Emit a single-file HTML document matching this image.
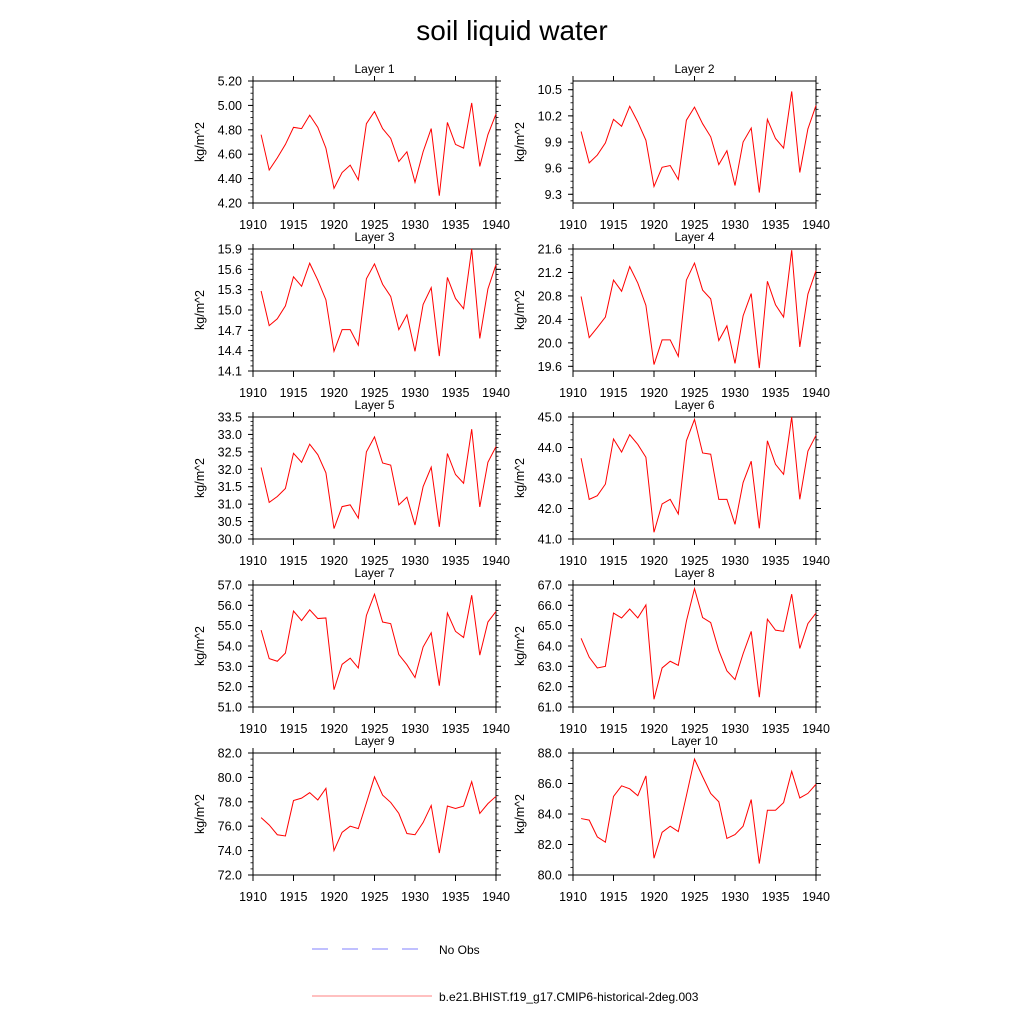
<!DOCTYPE html>
<html><head><meta charset="utf-8"><style>
body{margin:0;background:#fff;}
svg text{font-family:"Liberation Sans",Arial,sans-serif;fill:#000;}
</style></head><body>
<svg id="chart" width="1024" height="1024" xmlns="http://www.w3.org/2000/svg">
<rect width="1024" height="1024" fill="#fff"/>
<text x="512" y="40" font-size="28" text-anchor="middle">soil liquid water</text>
<g>
<line x1="312" y1="949" x2="420" y2="949" stroke="#8080ff" stroke-width="1" stroke-dasharray="16,14"/>
<text x="439" y="954" font-size="12">No Obs</text>
<line x1="312" y1="996" x2="432" y2="996" stroke="#ff8080" stroke-width="1"/>
<text x="439" y="1001" font-size="12">b.e21.BHIST.f19_g17.CMIP6-historical-2deg.003</text>
</g>
</svg>
<script>
const years = [];
for (let y = 1911; y <= 1940; y++) years.push(y);
const xTicks = [1910, 1915, 1920, 1925, 1930, 1935, 1940];
const layer1 = [4.76,4.47,4.57,4.68,4.82,4.81,4.92,4.82,4.65,4.32,4.45,4.51,4.39,4.85,4.95,4.81,4.73,4.54,4.62,4.37,4.62,4.81,4.26,4.86,4.68,4.65,5.02,4.50,4.76,4.93];
const layer2 = [10.02,9.66,9.75,9.89,10.16,10.08,10.31,10.13,9.92,9.39,9.61,9.63,9.47,10.15,10.30,10.11,9.96,9.64,9.80,9.40,9.90,10.06,9.32,10.16,9.94,9.83,10.48,9.55,10.05,10.32];
const layer3 = [15.28,14.77,14.87,15.06,15.49,15.35,15.69,15.44,15.15,14.39,14.71,14.71,14.48,15.46,15.68,15.38,15.20,14.71,14.93,14.39,15.08,15.33,14.32,15.48,15.17,15.02,15.90,14.58,15.31,15.67];
const layer4 = [20.79,20.09,20.26,20.44,21.07,20.88,21.30,21.02,20.64,19.63,20.05,20.05,19.77,21.07,21.36,20.90,20.75,20.04,20.29,19.65,20.46,20.84,19.57,21.05,20.65,20.44,21.58,19.93,20.83,21.23];
const layer5 = [32.05,31.05,31.22,31.45,32.46,32.20,32.72,32.42,31.90,30.30,30.93,30.98,30.60,32.50,32.93,32.18,32.12,30.98,31.20,30.40,31.50,32.06,30.35,32.45,31.85,31.60,33.15,30.92,32.20,32.65];
const layer6 = [43.65,42.30,42.42,42.80,44.28,43.85,44.42,44.10,43.68,41.22,42.15,42.30,41.82,44.22,44.92,43.82,43.78,42.30,42.30,41.48,42.85,43.55,41.35,44.22,43.45,43.12,45.00,42.30,43.88,44.40];
const layer7 = [54.78,53.38,53.25,53.65,55.72,55.25,55.78,55.35,55.38,51.85,53.10,53.40,52.92,55.50,56.55,55.18,55.10,53.58,53.08,52.45,53.95,54.65,52.05,55.62,54.72,54.42,56.50,53.55,55.18,55.70];
const layer8 = [64.38,63.45,62.92,63.00,65.62,65.38,65.82,65.38,66.02,61.38,62.92,63.25,63.05,65.22,66.82,65.40,65.15,63.78,62.78,62.35,63.62,64.72,61.48,65.32,64.78,64.72,66.55,63.88,65.10,65.62];
const layer9 = [76.7,76.1,75.3,75.2,78.1,78.3,78.75,78.15,79.1,74.0,75.5,76.0,75.8,77.9,80.05,78.55,77.95,77.05,75.4,75.3,76.3,77.7,73.8,77.65,77.45,77.65,79.65,77.05,77.85,78.45];
const layer10 = [83.7,83.6,82.5,82.15,85.15,85.85,85.65,85.2,86.5,81.1,82.8,83.2,82.85,85.2,87.6,86.45,85.35,84.8,82.4,82.65,83.2,84.95,80.75,84.25,84.25,84.75,86.8,85.05,85.35,85.95];
const yMins = [4.2, 9.2, 14.1, 19.52, 30.0, 41.0, 51.0, 61.0, 72.0, 80.0];
const yMaxs = [5.2, 10.6, 15.9, 21.6, 33.5, 45.0, 57.0, 67.0, 82.0, 88.0];
const yTicks1 = [4.2,4.4,4.6,4.8,5.0,5.2];
const yTicks2 = [9.3,9.6,9.9,10.2,10.5];
const yTicks3 = [14.1,14.4,14.7,15.0,15.3,15.6,15.9];
const yTicks4 = [19.6,20.0,20.4,20.8,21.2,21.6];
const yTicks5 = [30.0,30.5,31.0,31.5,32.0,32.5,33.0,33.5];
const yTicks6 = [41,42,43,44,45];
const yTicks7 = [51,52,53,54,55,56,57];
const yTicks8 = [61,62,63,64,65,66,67];
const yTicks9 = [72,74,76,78,80,82];
const yTicks10 = [80,82,84,86,88];
const tickDecimals = [2,1,1,1,1,1,1,1,1,1];
const layers = [layer1,layer2,layer3,layer4,layer5,layer6,layer7,layer8,layer9,layer10];
const yTicksAll = [yTicks1,yTicks2,yTicks3,yTicks4,yTicks5,yTicks6,yTicks7,yTicks8,yTicks9,yTicks10];

const NS = "http://www.w3.org/2000/svg";
const svg = document.getElementById('chart');
function mk(tag, attrs, parent) {
  const e = document.createElementNS(NS, tag);
  for (const k in attrs) e.setAttribute(k, attrs[k]);
  parent.appendChild(e);
  return e;
}
const lefts = [253, 573], W = 243, H = 122;
const tops = [81, 249, 417, 585, 753];
layers.forEach((data, i) => {
  const L = lefts[i % 2], T = tops[Math.floor(i / 2)];
  const ymin = yMins[i], ymax = yMaxs[i];
  const xs = v => L + (v - 1910) / 30 * W;
  const ys = v => T + H - (v - ymin) / (ymax - ymin) * H;
  const g = mk('g', {}, svg);
  
  
  const ttl = mk('text', {x: L + W / 2, y: T - 8, 'font-size': 12, 'text-anchor': 'middle'}, g);
  ttl.textContent = 'Layer ' + (i + 1);
  
  
  const yt = mk('text', {x: 0, y: 0, 'font-size': 12.5, 'text-anchor': 'middle', transform: `translate(${L - 49},${T + H / 2}) rotate(-90)`}, g);
  yt.textContent = 'kg/m^2';
  
  
  xTicks.forEach(v => {
    const x = xs(v);
    mk('line', {x1: x, y1: T + H, x2: x, y2: T + H + 6, stroke: '#000'}, g);
    mk('line', {x1: x, y1: T, x2: x, y2: T - 5, stroke: '#000'}, g);
    const t = mk('text', {x: x, y: T + H + 26, 'font-size': 12.5, 'text-anchor': 'middle'}, g);
    t.textContent = v;
    
    
  });
  const yt_ = yTicksAll[i];
  const step = yt_[1] - yt_[0];
  const minor = step / 4;
  for (let v = yt_[0] - step; v <= ymax + 1e-9; v += minor) {
    if (v < ymin - 1e-9) continue;
    const y = ys(v);
    mk('line', {x1: L, y1: y, x2: L - 2.5, y2: y, stroke: '#000', 'stroke-width': 0.8}, g);
    mk('line', {x1: L + W, y1: y, x2: L + W + 2.5, y2: y, stroke: '#000', 'stroke-width': 0.8}, g);
  }
  yt_.forEach(v => {
    const y = ys(v);
    mk('line', {x1: L, y1: y, x2: L - 5, y2: y, stroke: '#000'}, g);
    mk('line', {x1: L + W, y1: y, x2: L + W + 5, y2: y, stroke: '#000'}, g);
    const t = mk('text', {x: L - 11, y: y + 4.5, 'font-size': 12.5, 'text-anchor': 'end'}, g);
    t.textContent = v.toFixed(tickDecimals[i]);
    
    
  });
  const fr = mk('rect', {x: L, y: T, width: W, height: H, fill: 'none', stroke: '#000', 'stroke-width': 1}, g);
  
  
  const pts = data.map((v, k) => xs(years[k]).toFixed(2) + ',' + ys(v).toFixed(2)).join(' ');
  const pl = mk('polyline', {points: pts, fill: 'none', stroke: '#ff0000', 'stroke-width': 1}, g);
  
  
});
</script>
</body></html>
